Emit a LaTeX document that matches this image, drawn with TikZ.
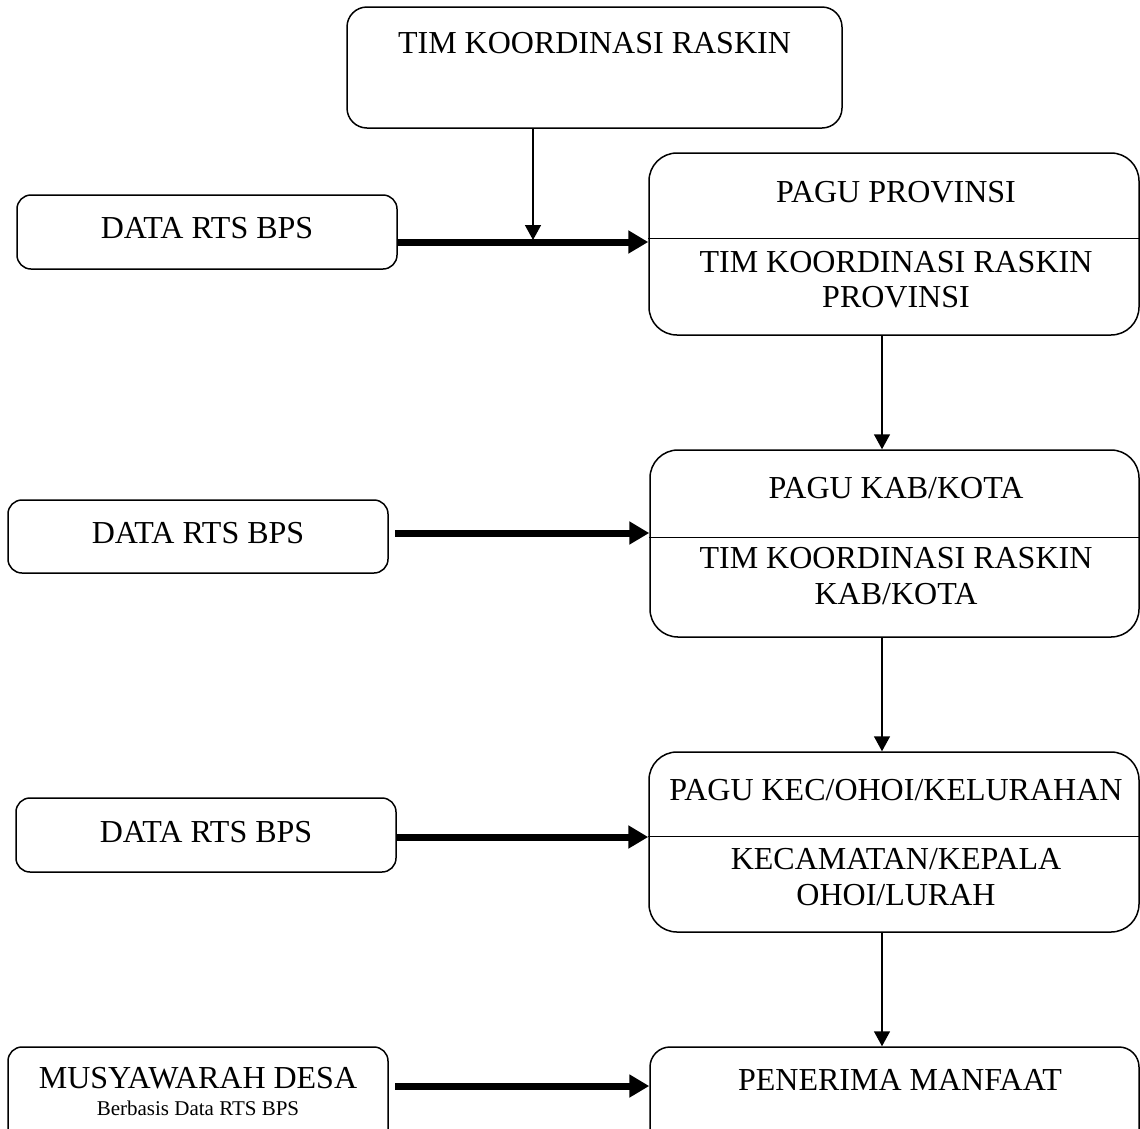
\documentclass[tikz,border=0pt]{standalone}
\usepackage{fontspec}
\setmainfont{Liberation Serif}
\usetikzlibrary{arrows.meta}
\begin{document}
\begin{tikzpicture}[x=1pt,y=-1pt,
  box/.style={draw, line width=1.5pt, rounded corners=#1, inner sep=0pt},
  lbl/.style={font=\fontsize{32}{38}\selectfont, anchor=base, inner sep=0pt},
  small/.style={font=\fontsize{21}{25}\selectfont, anchor=base, inner sep=0pt},
  divider/.style={line width=1pt},
  bigarrow/.style={line width=7pt, -{Triangle[length=20pt,width=22pt]}},
  thinarrow/.style={line width=1.5pt, -{Triangle[length=15pt,width=16pt]}}]
\useasboundingbox (0,0) rectangle (1140,1128);
\fill[white] (0,0) rectangle (1140,1128);
\clip (0,0) rectangle (1140,1128);

% top box
\node[box=20pt, minimum width=495pt, minimum height=121pt] (T) at (594.5,67.5) {};
\node[lbl] (Tt) at (594.5,53) {TIM KOORDINASI RASKIN};

% right column
\node[box=28pt, minimum width=490pt, minimum height=182pt] (R1) at (894,244) {};
\draw[divider] (R1.west |- 0,238) coordinate (d1a) -- (R1.east |- 0,238) coordinate (d1b);
\node[lbl] (R1a) at (896,202) {PAGU PROVINSI};
\node[lbl] (R1b) at (896,272) {TIM KOORDINASI RASKIN};
\node[lbl] (R1c) at (896,307) {PROVINSI};

\node[box=28pt, minimum width=489pt, minimum height=187pt] (R2) at (894.5,543.5) {};
\draw[divider] (R2.west |- 0,537) coordinate (d2a) -- (R2.east |- 0,537) coordinate (d2b);
\node[lbl] (R2a) at (896,498) {PAGU KAB/KOTA};
\node[lbl] (R2b) at (896,568) {TIM KOORDINASI RASKIN};
\node[lbl] (R2c) at (896,604) {KAB/KOTA};

\node[box=28pt, minimum width=490pt, minimum height=180pt] (R3) at (894,842) {};
\draw[divider] (R3.west |- 0,836) coordinate (d3a) -- (R3.east |- 0,836) coordinate (d3b);
\node[lbl] (R3a) at (896,800) {PAGU KEC/OHOI/KELURAHAN};
\node[lbl] (R3b) at (896,869) {KECAMATAN/KEPALA};
\node[lbl] (R3c) at (896,905) {OHOI/LURAH};

\node[box=20pt, minimum width=489pt, minimum height=123pt] (R4) at (894.5,1108.5) {};
\node[lbl] (R4a) at (900,1090) {PENERIMA MANFAAT};

% left column
\node[box=14pt, minimum width=380pt, minimum height=74pt] (L1) at (207,232) {};
\node[lbl] (L1t) at (207,238) {DATA RTS BPS};
\node[box=14pt, minimum width=380pt, minimum height=73pt] (L2) at (198,536.5) {};
\node[lbl] (L2t) at (198,543) {DATA RTS BPS};
\node[box=14pt, minimum width=380pt, minimum height=74pt] (L3) at (206,835) {};
\node[lbl] (L3t) at (206,842) {DATA RTS BPS};
\node[box=14pt, minimum width=380pt, minimum height=123pt] (L4) at (198,1108.5) {};
\node[lbl] (L4a) at (198,1088) {MUSYAWARAH DESA};
\node[small] (L4b) at (198,1115) {Berbasis Data RTS BPS};

% horizontal thick arrows
\coordinate (a1) at (397,242);
\coordinate (a2) at (395,533);
\coordinate (a3) at (396,837);
\coordinate (a4) at (395,1086);
\draw[bigarrow] (a1) -- (a1 -| R1.west);
\draw[bigarrow] (a2) -- (a2 -| R2.west);
\draw[bigarrow] (a3) -- (a3 -| R3.west);
\draw[bigarrow] (a4) -- (a4 -| R4.west);

% vertical arrows
\coordinate (j1) at (533,240);
\draw[thinarrow] (j1 |- T.south) -- (j1);
\coordinate (v) at (882,0);
\draw[thinarrow] (v |- R1.south) -- (v |- R2.north);
\draw[thinarrow] (v |- R2.south) -- (v |- R3.north);
\draw[thinarrow] (v |- R3.south) -- (v |- R4.north);
\end{tikzpicture}
\end{document}
